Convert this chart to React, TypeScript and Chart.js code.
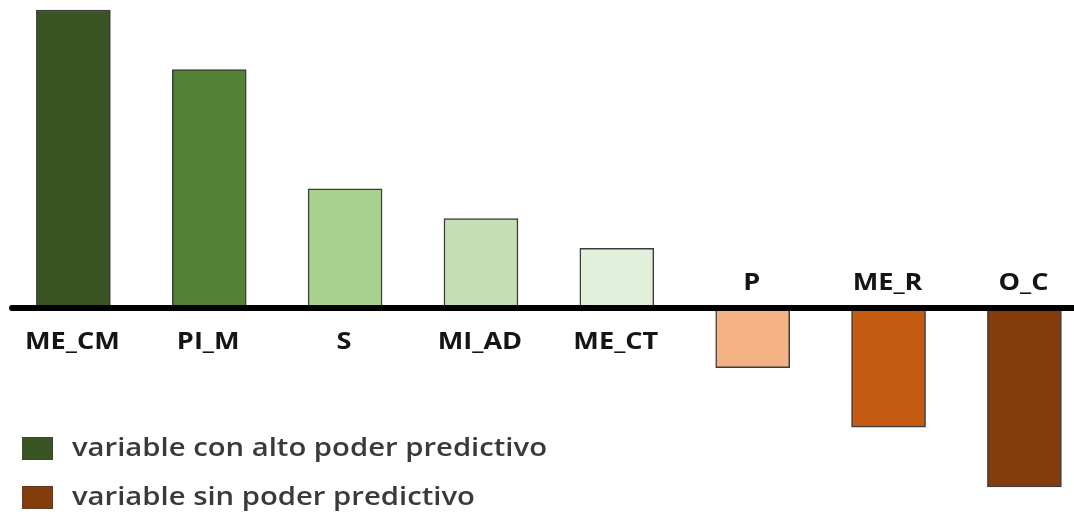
import React, { useEffect, useRef } from "react";
import { Chart, registerables } from "chart.js";

Chart.register(...registerables);

// ---- data ----
const categories = ["ME_CM", "PI_M", "S", "MI_AD", "ME_CT", "P", "ME_R", "O_C"];
const values = [5, 4, 2, 1.5, 1, -1, -2, -3];
const barColors = ["#3b5424", "#538135", "#a9d18e", "#c5e0b4", "#e2efda", "#f4b183", "#c55a11", "#843c0c"];
const legendLabels = ["variable con alto poder predictivo", "variable sin poder predictivo"];
const legendColors = ["#3b5424", "#843c0c"];

// ---- style constants ----
const W = 1074;
const H = 515;
const LABEL_FONT = 'bold 24px "Open Sans"';
const LABEL_STRETCH = 1.13;
const LEGEND_FONT = '600 25px "Open Sans"';
const LEGEND_STRETCH = 1.17;

const annotPlugin = {
  id: "annot",
  afterDatasetsDraw(chart: any) {
    const { ctx } = chart;
    const x = chart.scales.x;
    const y = chart.scales.y;
    const y0 = y.getPixelForValue(0);
    ctx.save();
    // zero line
    ctx.strokeStyle = "#000";
    ctx.lineWidth = 6;
    ctx.lineCap = "round";
    ctx.beginPath();
    ctx.moveTo(12, y0);
    ctx.lineTo(W + 10, y0);
    ctx.stroke();

    // category labels
    ctx.font = LABEL_FONT;
    ctx.textAlign = "center";
    ctx.textBaseline = "alphabetic";
    ctx.fillStyle = "#151515";
    categories.forEach((c, i) => {
      const px = x.getPixelForValue(i) - 1;
      const py = values[i] >= 0 ? y0 + 41 : y0 - 18;
      ctx.save();
      ctx.translate(px, py);
      ctx.scale(LABEL_STRETCH, 1);
      ctx.fillText(c, 0, 0);
      ctx.restore();
    });

    // legend
    ctx.font = LEGEND_FONT;
    ctx.textAlign = "left";
    legendLabels.forEach((lab, i) => {
      const top = 437 + i * 49;
      ctx.fillStyle = legendColors[i];
      ctx.fillRect(22, top, 31, 23);
      ctx.strokeStyle = "rgba(60,60,60,0.5)";
      ctx.lineWidth = 1;
      ctx.strokeRect(22.5, top + 0.5, 30, 22);
      ctx.fillStyle = "#3a3a3a";
      ctx.save();
      ctx.translate(72, top + 19);
      ctx.scale(LEGEND_STRETCH, 1);
      ctx.fillText(lab, 0, 0);
      ctx.restore();
    });
    ctx.restore();
  },
};

export default function App() {
  const ref = useRef<HTMLCanvasElement>(null);
  useEffect(() => {
    if (!ref.current) return;
    const chart = new Chart(ref.current, {
      type: "bar",
      data: {
        datasets: [
          {
            data: categories.map((c, i) => ({ x: i, y: values[i] })),
            backgroundColor: barColors,
            borderColor: "#3c3c3c",
            borderWidth: 1.5,
            borderSkipped: false,
            barThickness: 74,
          },
        ],
      },
      options: {
        animation: false,
        responsive: false,
        maintainAspectRatio: false,
        layout: { padding: 0 },
        scales: {
          x: {
            type: "linear",
            display: false,
            offset: false,
            grid: { offset: false },
            min: -0.54,
            max: 7.365,
          },
          y: { display: false, min: -3.473, max: 5.168 },
        },
        plugins: {
          legend: { display: false },
          tooltip: { enabled: false },
        },
      },
      plugins: [annotPlugin],
    } as any);
    return () => chart.destroy();
  }, []);
  return (
    <div style={{ position: "absolute", left: 0, top: 0, width: W, height: H, background: "#fff" }}>
      <canvas ref={ref} width={W} height={H} />
    </div>
  );
}
